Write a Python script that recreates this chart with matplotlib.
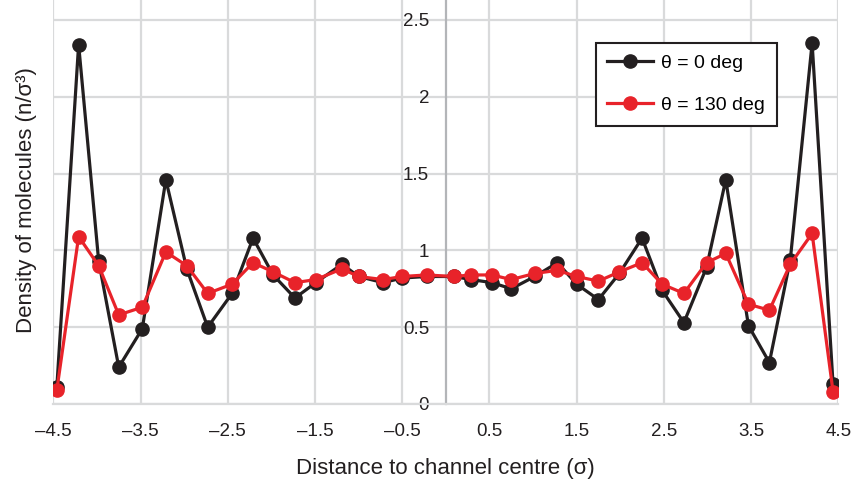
import matplotlib
matplotlib.use('Agg')
import matplotlib.pyplot as plt

# Density profiles
x_pos = [-4.46, -4.21, -3.98, -3.75, -3.48, -3.21, -2.97, -2.73, -2.45, -2.21,
         -1.98, -1.73, -1.49, -1.19, -1.00, -0.72, -0.50, -0.22, 0.09, 0.29,
         0.53, 0.75, 1.02, 1.28, 1.50, 1.75, 1.99, 2.25, 2.48, 2.73,
         2.99, 3.21, 3.47, 3.71, 3.95, 4.20, 4.44]
dens_0 = [0.11, 2.34, 0.93, 0.24, 0.49, 1.46, 0.88, 0.50, 0.72, 1.08,
          0.84, 0.69, 0.79, 0.91, 0.83, 0.79, 0.82, 0.83, 0.83, 0.81,
          0.79, 0.75, 0.83, 0.92, 0.78, 0.68, 0.85, 1.08, 0.74, 0.53,
          0.89, 1.46, 0.51, 0.27, 0.94, 2.35, 0.13]
dens_130 = [0.09, 1.09, 0.90, 0.58, 0.63, 0.99, 0.90, 0.72, 0.78, 0.92,
            0.86, 0.79, 0.81, 0.88, 0.83, 0.81, 0.83, 0.84, 0.83, 0.84,
            0.84, 0.81, 0.85, 0.87, 0.83, 0.80, 0.86, 0.92, 0.78, 0.72,
            0.92, 0.98, 0.65, 0.61, 0.91, 1.11, 0.08]

x_ticks = [-4.5, -3.5, -2.5, -1.5, -0.5, 0.5, 1.5, 2.5, 3.5, 4.5]
x_tick_labels = ['–4.5', '–3.5', '–2.5', '–1.5', '–0.5', '0.5', '1.5', '2.5', '3.5', '4.5']
y_ticks = [0, 0.5, 1, 1.5, 2, 2.5]
y_tick_labels = ['0', '0.5', '1', '1.5', '2', '2.5']

BLACK = '#231f20'
RED = '#e8232a'
GRID = '#d9dadb'

plt.rcParams['font.family'] = ['Liberation Sans', 'DejaVu Sans']

fig = plt.figure(figsize=(8.56, 4.84), dpi=100)
ax = fig.add_axes([0.0623, 0.1653, 0.917, 0.8347])

ax.plot(x_pos, dens_0, color=BLACK, lw=2.3, marker='o', ms=9.5,
        label='θ = 0 deg', zorder=3)
ax.plot(x_pos, dens_130, color=RED, lw=2.3, marker='o', ms=9.5,
        label='θ = 130 deg', zorder=4)

ax.set_xlim(-4.5, 4.5)
ax.set_ylim(0, 2.63)
ax.set_xticks(x_ticks)
ax.set_xticklabels(x_tick_labels)
ax.set_yticks(y_ticks)
ax.set_yticklabels(y_tick_labels)

# grid lines, the y axis sits in the middle at x = 0
ax.grid(True, color=GRID, lw=1.6, zorder=0)
ax.set_axisbelow(True)
ax.spines['left'].set_position(('data', 0))
ax.spines['left'].set_color('#b3b5b8')
ax.spines['left'].set_linewidth(1.6)
ax.spines['bottom'].set_color(GRID)
ax.spines['bottom'].set_linewidth(1.6)
ax.spines['top'].set_visible(False)
ax.spines['right'].set_visible(False)

ax.tick_params(axis='both', length=0, labelsize=13.5, labelcolor=BLACK)
ax.tick_params(axis='x', pad=14)
ax.tick_params(axis='y', pad=12)

ax.set_xlabel('Distance to channel centre (σ)', fontsize=16, color=BLACK)
ax.set_ylabel('Density of molecules (n/σ³)', fontsize=16, color=BLACK)
ax.xaxis.set_label_coords(0.5, -0.133)
ax.yaxis.set_label_coords(-0.021, 0.505)

leg = ax.legend(loc='upper left', bbox_to_anchor=(0.691, 0.894), fontsize=14,
                frameon=True, fancybox=False, handlelength=2.37,
                labelspacing=1.26, borderpad=0.6, handletextpad=0.4,
                borderaxespad=0)
leg.get_frame().set_edgecolor(BLACK)
leg.get_frame().set_linewidth(1.5)
leg.get_frame().set_alpha(1)

fig.savefig('out.png', dpi=100)
